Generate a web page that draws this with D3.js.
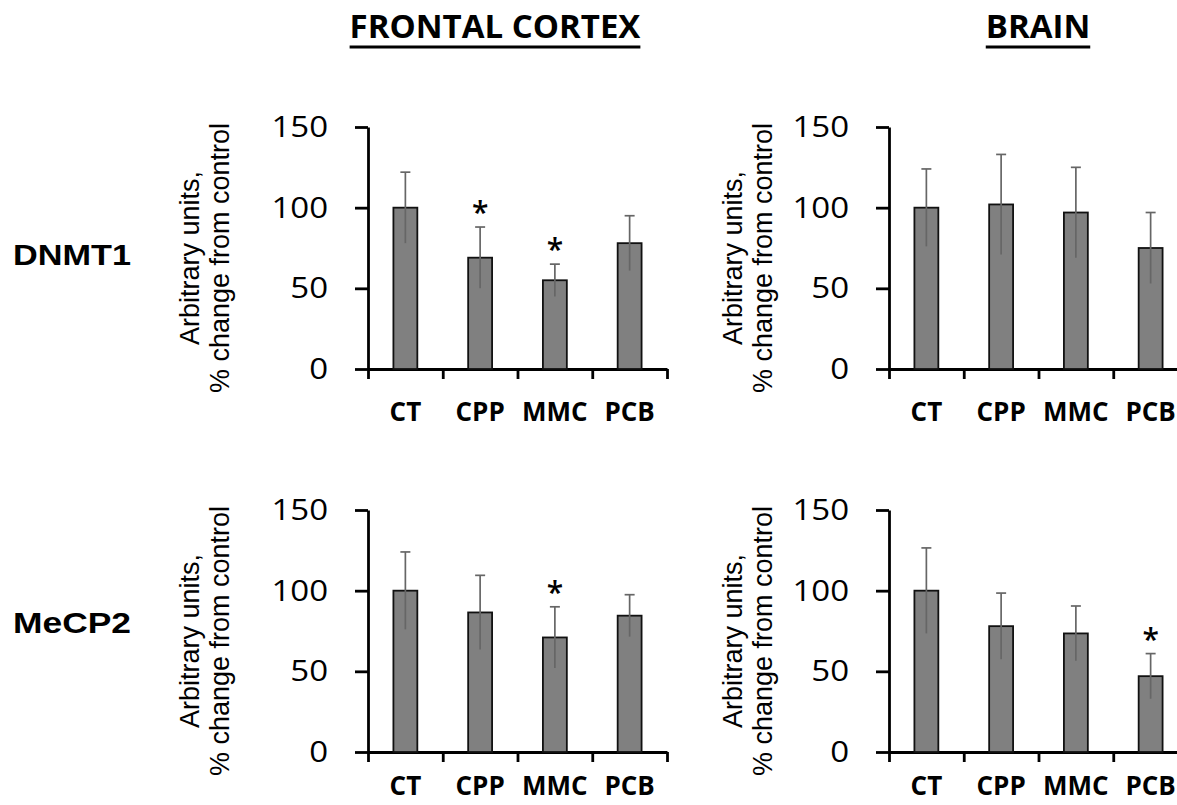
<!DOCTYPE html>
<html>
<head>
<meta charset="utf-8">
<script src="https://cdn.jsdelivr.net/npm/d3@7"></script>
<style>
  body { margin: 0; background: #fff; }
  svg { display: block; }
</style>
</head>
<body>
<svg id="chart" width="1177" height="805"></svg>
<script>
// data
var categories = ["CT", "CPP", "MMC", "PCB"];
var yTicks = [0, 50, 100, 150];
var regions = ["FRONTAL CORTEX", "BRAIN"];
var genes = ["DNMT1", "MeCP2"];

var fcDnmt1 = [100, 69, 55, 78];
var fcDnmt1Err = [22, 19, 10, 17];
var fcDnmt1Sig = [0, 1, 1, 0];

var brDnmt1 = [100, 102, 97, 75];
var brDnmt1Err = [24, 31, 28, 22];
var brDnmt1Sig = [0, 0, 0, 0];

var fcMecp2 = [100, 86.5, 71, 84.5];
var fcMecp2Err = [24, 23, 19, 13];
var fcMecp2Sig = [0, 0, 1, 0];

var brMecp2 = [100, 78, 73.5, 47];
var brMecp2Err = [26.5, 20.5, 17, 14];
var brMecp2Sig = [0, 0, 0, 1];

// layout
var colLeft = [368, 889];
var rowTop = [127, 510];
var plotW = 299, plotH = 242;
var titleX = [495, 1038];
var rowLabelY = [265, 633];
var catLabelOff = [52, 43];
var yTitleOff = [[-169, -139], [-147, -117]];

var svg = d3.select("#chart");

var panels = [
  { row: 0, col: 0, v: fcDnmt1, e: fcDnmt1Err, s: fcDnmt1Sig },
  { row: 0, col: 1, v: brDnmt1, e: brDnmt1Err, s: brDnmt1Sig },
  { row: 1, col: 0, v: fcMecp2, e: fcMecp2Err, s: fcMecp2Sig },
  { row: 1, col: 1, v: brMecp2, e: brMecp2Err, s: brMecp2Sig }
];

var x = d3.scaleBand().domain(categories).range([0, plotW]).paddingInner(0.68).paddingOuter(0.34);
var xb = d3.scaleLinear().domain([0, categories.length]).range([0, plotW]);
var y = d3.scaleLinear().domain([0, 150]).range([plotH, 0]);

function mid(c) { return x(c) + x.bandwidth() / 2; }

panels.forEach(function (p) {
  var g = svg.append("g")
    .attr("transform", "translate(" + colLeft[p.col] + "," + rowTop[p.row] + ")");

  var rows = categories.map(function (c, i) {
    return { cat: c, v: p.v[i], e: p.e[i], s: p.s[i] };
  });

  // y axis
  var ya = g.append("g").call(
    d3.axisLeft(y).tickValues(yTicks).tickSize(13).tickSizeOuter(0).tickFormat(d3.format("d"))
  );
  ya.selectAll("text")
    .attr("x", -40 / 1.1)
    .attr("transform", "scale(1.1,1)")
    .style("font-family", "'Open Sans', sans-serif")
    .style("font-size", "30px")
    .attr("fill", "#000");

  // x axis with ticks on category boundaries
  var xa = g.append("g")
    .attr("transform", "translate(0," + plotH + ")")
    .call(d3.axisBottom(xb).tickValues(d3.range(categories.length + 1)).tickSize(10).tickSizeOuter(0).tickFormat(""));

  [ya, xa].forEach(function (a) {
    a.selectAll("line, path").attr("stroke", "#000").attr("stroke-width", 2.8);
  });

  // bars
  g.selectAll(".bar").data(rows).enter().append("rect")
    .attr("class", "bar")
    .attr("x", function (d) { return x(d.cat); })
    .attr("y", function (d) { return y(d.v); })
    .attr("width", x.bandwidth())
    .attr("height", function (d) { return plotH - y(d.v); })
    .attr("fill", "#808080")
    .attr("stroke", "#111")
    .attr("stroke-width", 1.8);

  // error bars
  var eg = g.selectAll(".err").data(rows).enter().append("g")
    .attr("class", "err")
    .attr("stroke", "#666").attr("stroke-width", 1.7);
  eg.append("line")
    .attr("x1", function (d) { return mid(d.cat); })
    .attr("x2", function (d) { return mid(d.cat); })
    .attr("y1", function (d) { return y(d.v - d.e); })
    .attr("y2", function (d) { return y(d.v + d.e); });
  eg.append("line")
    .attr("x1", function (d) { return mid(d.cat) - 5; })
    .attr("x2", function (d) { return mid(d.cat) + 5; })
    .attr("y1", function (d) { return y(d.v + d.e); })
    .attr("y2", function (d) { return y(d.v + d.e); });

  // significance stars
  g.selectAll(".star").data(rows.filter(function (d) { return d.s; })).enter()
    .append("text")
    .attr("class", "star")
    .attr("x", function (d) { return mid(d.cat); })
    .attr("y", function (d) { return y(d.v + d.e) - 4; })
    .attr("text-anchor", "middle")
    .style("font-family", "'Open Sans', sans-serif")
    .style("font-weight", "600")
    .style("font-size", "30px")
    .text("*");

  // category labels
  g.selectAll(".cat").data(categories).enter().append("text")
    .attr("class", "cat")
    .attr("x", function (d) { return mid(d); })
    .attr("y", plotH + catLabelOff[p.row])
    .attr("text-anchor", "middle")
    .style("font-family", "'Open Sans', sans-serif")
    .style("font-weight", "bold")
    .style("font-size", "26px")
    .text(function (d) { return d; });

  // y title
  var off = yTitleOff[p.col];
  ["Arbitrary units,", "% change from control"].forEach(function (t, k) {
    g.append("text")
      .attr("transform", "translate(" + off[k] + "," + (plotH / 2 + 10) + ") rotate(-90)")
      .attr("text-anchor", "middle")
      .style("font-family", "'Liberation Sans', Arial, sans-serif")
      .style("font-size", "27px")
      .text(t);
  });
});

// column titles
regions.forEach(function (r, i) {
  var t = svg.append("text")
    .attr("x", titleX[i])
    .attr("y", 38)
    .attr("text-anchor", "middle")
    .style("font-family", "'Open Sans', sans-serif")
    .style("font-weight", "bold")
    .style("font-size", "33px")
    .text(r);
  var w = t.node().getComputedTextLength();
  svg.append("line")
    .attr("x1", titleX[i] - w / 2).attr("x2", titleX[i] + w / 2)
    .attr("y1", 47).attr("y2", 47)
    .attr("stroke", "#000").attr("stroke-width", 3);
});

// row labels
genes.forEach(function (gname, i) {
  svg.append("text")
    .attr("x", 13)
    .attr("y", rowLabelY[i])
    .attr("textLength", 118)
    .attr("lengthAdjust", "spacingAndGlyphs")
    .style("font-family", "'Liberation Sans', Arial, sans-serif")
    .style("font-weight", "bold")
    .style("font-size", "30px")
    .text(gname);
});
</script>
</body>
</html>
